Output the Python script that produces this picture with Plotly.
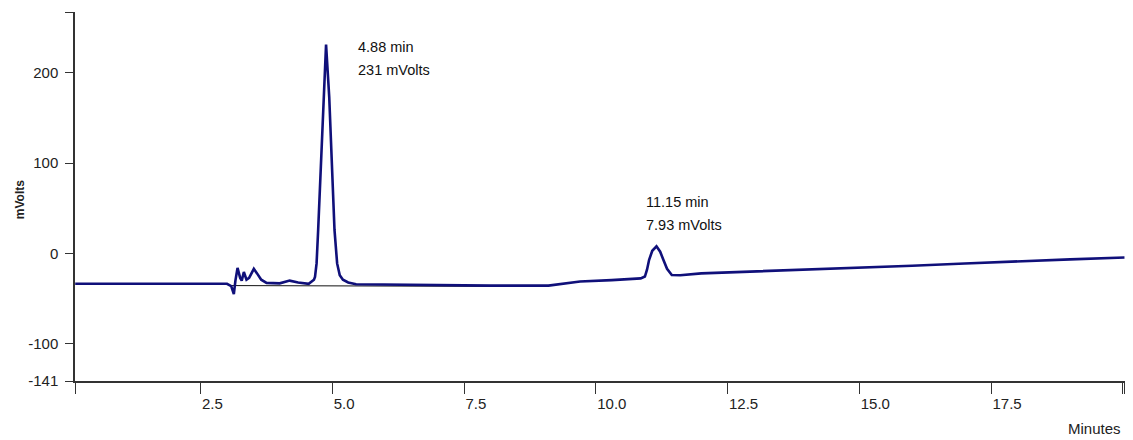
import plotly.graph_objects as go

# Detector trace: retention time (min) and signal (mV)
time_min = [
    0.12, 1.0, 2.0, 3.0, 3.08, 3.13, 3.16, 3.20, 3.25, 3.28, 3.32, 3.37, 3.42,
    3.51, 3.57, 3.65, 3.75, 4.0, 4.19, 4.35, 4.55, 4.62, 4.65, 4.67, 4.70, 4.73,
    4.78, 4.83, 4.88, 4.94, 4.99, 5.04, 5.09, 5.14, 5.20, 5.30, 5.45, 6.0, 7.0,
    8.0, 9.1, 9.7, 10.3, 10.85, 10.93, 10.97, 11.01, 11.07, 11.15, 11.22, 11.28,
    11.35, 11.44, 11.6, 12.0, 13.0, 14.0, 15.0, 16.0, 17.0, 18.0, 19.0, 20.03,
]
signal_mv = [
    -33.5, -33.5, -33.5, -33.5, -36, -45, -30, -16, -27, -30, -20.5, -29, -27,
    -17, -22, -29, -32.5, -33, -30, -32, -33.5, -31, -29, -26, -11, 26,
    100, 173, 231, 173, 100, 26, -11, -24, -29, -32, -34, -34.5, -35,
    -35.5, -35.5, -31, -29.5, -27.5, -25.5, -18, -7, 3, 7.93, 2, -7,
    -17, -23.8, -24, -22, -20, -18, -16, -13.5, -11, -8.5, -6.5, -4.5,
]

# Integration baseline under the first peak
baseline_t = [3.08, 9.1]
baseline_mv = [-35.5, -36.5]

# Labelled peaks
peak_t = [4.88, 11.15]
peak_mv = [231, 7.93]

# Axis ticks
x_ticks = [2.5, 5.0, 7.5, 10.0, 12.5, 15.0, 17.5]
x_ticktext = ["2.5", "5.0", "7.5", "10.0", "12.5", "15.0", "17.5"]
y_ticks = [-141, -100, 0, 100, 200]
y_ticktext = ["-141", "-100", "0", "100", "200"]

X_RANGE = [0.116, 20.04]
Y_RANGE = [-141, 267]

SANS = "Liberation Sans, Arial, sans-serif"
TICKFONT = dict(family=SANS, size=15, color="#222222")
TRACE_COLOR = "#10107a"

fig = go.Figure()

fig.add_trace(go.Scatter(
    x=baseline_t, y=baseline_mv, mode="lines",
    line=dict(color="#111111", width=1), hoverinfo="skip",
))
fig.add_trace(go.Scatter(
    x=time_min, y=signal_mv, mode="lines",
    line=dict(color=TRACE_COLOR, width=2.6),
))

# Peak labels: retention time on the first line, height on the second
label_offsets = [(30, -2), (-12, 44)]
LINE_GAP = 23
for t, mv, (dx, dy) in zip(peak_t, peak_mv, label_offsets):
    for i, line in enumerate([f"{t:.2f} min", f"{mv:g} mVolts"]):
        fig.add_annotation(
            x=t, y=mv, xref="x", yref="y", text=line,
            showarrow=False, xanchor="left", yanchor="middle", align="left",
            xshift=dx, yshift=dy - i * LINE_GAP,
            font=dict(family=SANS, size=14.5, color="#111111"),
        )

# Axis titles
fig.add_annotation(
    x=0, y=0.49, xref="paper", yref="paper", text="<b>mVolts</b>",
    textangle=-90, showarrow=False, xanchor="center", yanchor="middle",
    xshift=-55, font=dict(family=SANS, size=12, color="#222222"),
)
fig.add_annotation(
    x=1, y=0, xref="paper", yref="paper", text="Minutes",
    showarrow=False, xanchor="right", yanchor="middle",
    xshift=-2, yshift=-47, font=dict(family=SANS, size=15, color="#222222"),
)

fig.update_xaxes(
    range=X_RANGE, showgrid=False, zeroline=False,
    showline=True, linecolor="#333333", linewidth=1.5,
    ticks="outside", ticklen=11, tickwidth=1.2, tickcolor="#333333",
    tickvals=[X_RANGE[0] + 0.005] + x_ticks + [19.99, 20.03],
    ticktext=[""] + x_ticktext + ["", ""],
    ticklabelposition="outside right", ticklabelstandoff=8, tickfont=TICKFONT,
)
fig.update_yaxes(
    range=Y_RANGE, showgrid=False, zeroline=False,
    showline=True, linecolor="#333333", linewidth=1.5,
    ticks="outside", ticklen=8, tickwidth=1.2, tickcolor="#333333",
    tickvals=y_ticks + [Y_RANGE[1] - 0.5], ticktext=y_ticktext + [""],
    tickfont=TICKFONT, ticklabelstandoff=4,
)

fig.update_layout(
    width=1133, height=440,
    margin=dict(l=75, r=8, t=12, b=59),
    plot_bgcolor="white", paper_bgcolor="white",
    showlegend=False,
)

fig.write_html("out.html")
